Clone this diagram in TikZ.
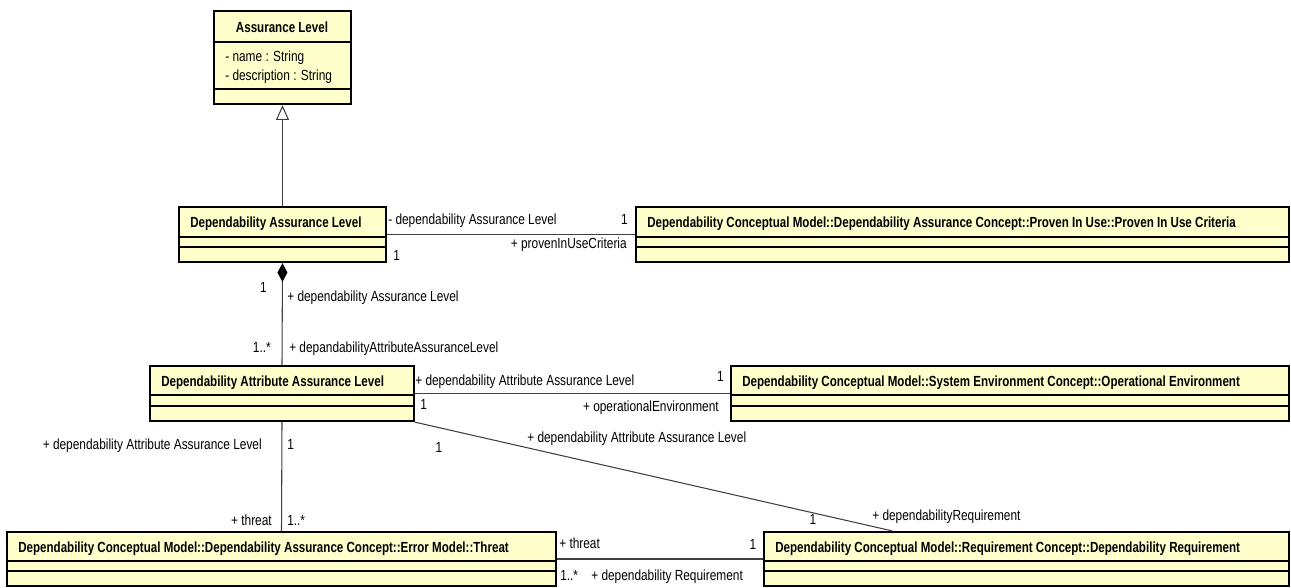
\documentclass[tikz,border=0pt]{standalone}
\usepackage{fontspec}
\usetikzlibrary{arrows.meta,calc,fit}
\newfontfamily\lblfont{Liberation Sans}[FakeStretch=0.81]
\newfontfamily\ttlfont{Liberation Sans}[FakeStretch=0.79]
\definecolor{classfill}{RGB}{255,255,204}

% UML class box: name, left, top, right, bottom, first divider, second divider, title
\newcommand\umlclass[8]{%
  \node[classbox, fit={(#2,#3) (#4,#5)}] (#1) {};
  \draw[divider] (#2,#6) -- (#4,#6);
  \draw[divider] (#2,#7) -- (#4,#7);
  \node[ttl, anchor=mid west] (#1-title) at (#2+11,#3+18) {#8};
}

\begin{document}
\begin{tikzpicture}[x=0.75pt,y=-0.75pt,
  classbox/.style={draw=black, line width=1.8pt, fill=classfill, inner sep=0pt},
  divider/.style={draw=black, line width=1pt},
  link/.style={draw=black!75, line width=0.8pt},
  lbl/.style={font=\lblfont\fontsize{11}{13}\selectfont, inner sep=0pt, text=black, yshift=-0.8pt},
  ttl/.style={font=\ttlfont\bfseries\fontsize{11}{13}\selectfont, inner sep=0pt, text=black},
]
\useasboundingbox (0,0) rectangle (1291,587);

% Assurance Level with its attributes
\node[classbox, fit={(214,11) (351,104)}] (al) {};
\draw[divider] (214,42) -- (351,42);
\draw[divider] (214,89) -- (351,89);
\node[ttl, anchor=mid] (al-title) at (282,29.5) {Assurance Level};
\node[lbl, anchor=mid west] (al-a1) at (225,58) {- name : String};
\node[lbl, anchor=mid west] (al-a2) at (225,77) {- description : String};

% remaining classes
\umlclass{dal}{179}{207}{386}{262}{237}{247}{Dependability Assurance Level}
\umlclass{piuc}{636}{207}{1289}{262}{237}{247}{Dependability Conceptual Model::Dependability Assurance Concept::Proven In Use::Proven In Use Criteria}
\umlclass{daal}{150}{366}{414}{421}{395}{406}{Dependability Attribute Assurance Level}
\umlclass{oe}{731}{366}{1289}{421}{395}{406}{Dependability Conceptual Model::System Environment Concept::Operational Environment}
\umlclass{threat}{7}{532}{556}{586}{561}{571}{Dependability Conceptual Model::Dependability Assurance Concept::Error Model::Threat}
\umlclass{dr}{764}{532}{1289}{586}{561}{571}{Dependability Conceptual Model::Requirement Concept::Dependability Requirement}

% generalization and composition
\draw[link, -{Triangle[open, fill=white, length=11pt, width=9.75pt]}] (dal.north) -- (al.south);
\draw[link, -{Diamond[length=14pt, width=7.5pt, color=black]}] (daal.north) -- (dal.south);

% associations
\draw[link] (dal.east) -- (piuc.west);
\draw[link] (daal.east) -- (oe.west);
\draw[link] (daal.south) -- (threat.north);
\draw[link] (daal.south east) -- ($(dr.north west)+(129,0)$);
\draw[link] (threat.east) -- (dr.west);

% role names and multiplicities
\node[lbl, anchor=mid west] (l1) at (388,221) {- dependability Assurance Level};
\node[lbl, anchor=mid east] (l2) at (628,221) {1};
\node[lbl, anchor=mid east] (l3) at (627,245) {+ provenInUseCriteria};
\node[lbl, anchor=mid west] (l4) at (393,257) {1};

\node[lbl, anchor=mid east] (l5) at (267,289) {1};
\node[lbl, anchor=mid west] (l6) at (287,298) {+ dependability Assurance Level};
\node[lbl, anchor=mid east] (l7) at (271,349) {1..*};
\node[lbl, anchor=mid west] (l8) at (289,349) {+ depandabilityAttributeAssuranceLevel};

\node[lbl, anchor=mid west] (l9) at (415,382) {+ dependability Attribute Assurance Level};
\node[lbl, anchor=mid east] (l10) at (724,378) {1};
\node[lbl, anchor=mid west] (l11) at (420,406) {1};
\node[lbl, anchor=mid east] (l12) at (719,408) {+ operationalEnvironment};

\node[lbl, anchor=mid west] (l13) at (527,439) {+ dependability Attribute Assurance Level};
\node[lbl, anchor=mid] (l14) at (439,449) {1};
\node[lbl, anchor=mid east] (l15) at (262,446) {+ dependability Attribute Assurance Level};
\node[lbl, anchor=mid west] (l16) at (287,446) {1};

\node[lbl, anchor=mid east] (l17) at (272,522) {+ threat};
\node[lbl, anchor=mid west] (l18) at (287,522) {1..*};
\node[lbl, anchor=mid] (l19) at (813,521) {1};
\node[lbl, anchor=mid west] (l20) at (872,517) {+ dependabilityRequirement};

\node[lbl, anchor=mid west] (l21) at (559,545) {+ threat};
\node[lbl, anchor=mid] (l22) at (753,546) {1};
\node[lbl, anchor=mid west] (l23) at (560,577) {1..*};
\node[lbl, anchor=mid west] (l24) at (591,577) {+ dependability Requirement};
\end{tikzpicture}
\end{document}
